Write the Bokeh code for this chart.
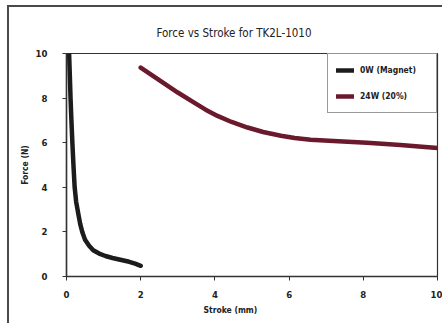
from bokeh.plotting import figure
from bokeh.models import Legend, LegendItem, Range1d, FixedTicker, Title
from bokeh.embed import file_html
from bokeh.resources import INLINE

# data
magnet_x = [0.07, 0.09, 0.11, 0.135, 0.16, 0.19, 0.22, 0.26, 0.32, 0.37, 0.43, 0.5, 0.61, 0.72, 0.88, 1.05, 1.24, 1.45, 1.69, 1.85, 2.0]
magnet_y = [10.0, 9.0, 7.95, 6.9, 5.94, 4.9, 4.0, 3.35, 2.8, 2.35, 1.97, 1.65, 1.38, 1.18, 1.03, 0.92, 0.83, 0.75, 0.66, 0.58, 0.48]
power_x = [2.0, 2.63, 3.0, 3.44, 3.75, 4.07, 4.45, 4.88, 5.3, 5.78, 6.15, 6.58, 7.2, 8.1, 9.0, 10.0]
power_y = [9.37, 8.66, 8.25, 7.8, 7.48, 7.2, 6.93, 6.68, 6.48, 6.31, 6.21, 6.13, 6.08, 6.0, 5.9, 5.76]
series_names = ["0W (Magnet)", "24W (20%)"]
x_ticks = [0, 2, 4, 6, 8, 10]
y_ticks = [0, 2, 4, 6, 8, 10]
title_text = "Force vs Stroke for TK2L-1010"
x_label = "Stroke (mm)"
y_label = "Force (N)"

FONT = "DejaVu Sans Condensed"
AX = "#333333"

p = figure(width=435, height=318, output_backend="svg", toolbar_location=None,
           x_range=Range1d(0, 10), y_range=Range1d(0, 10),
           min_border_left=57, min_border_right=7, min_border_top=46, min_border_bottom=49,
           margin=(5, 0, 0, 7),
           styles={"border-left": "2px solid #4a4a4a", "border-top": "2px solid #4a4a4a"})
p.background_fill_color = "white"
p.border_fill_color = "white"
p.outline_line_color = AX
p.outline_line_width = 1.2
p.grid.visible = False

for ax in (p.xaxis, p.yaxis):
    ax.axis_line_color = AX
    ax.axis_line_width = 1.5
    ax.major_tick_line_color = AX
    ax.major_tick_in = 0
    ax.major_tick_out = 4
    ax.minor_tick_line_color = None
    ax.major_label_text_font = FONT
    ax.major_label_text_font_style = "bold"
    ax.major_label_text_font_size = "9.5px"
    ax.major_label_text_color = "#222222"
    ax.axis_label_text_font = FONT
    ax.axis_label_text_font_style = "bold"
    ax.axis_label_text_font_size = "8.5px"
    ax.axis_label_text_color = "#222222"
p.xaxis.ticker = FixedTicker(ticks=x_ticks)
p.yaxis.ticker = FixedTicker(ticks=y_ticks)
p.xaxis.major_label_standoff = 10
p.yaxis.major_label_standoff = 15
p.yaxis.axis_label = y_label
p.yaxis.axis_label_standoff = 3

p.title = Title(text=title_text, align="left", offset=90, text_font=FONT,
                text_font_style="normal", text_font_size="11.5px", text_color="#222222",
                standoff=27)
p.add_layout(Title(text=x_label, align="left", offset=137, text_font=FONT,
                   text_font_style="bold", text_font_size="8.5px", text_color="#222222",
                   standoff=4), "below")

r1 = p.line(magnet_x, magnet_y, line_color="#1c1c1c", line_width=4.5, line_cap="round", line_join="round")
r2 = p.line(power_x, power_y, line_color="#6a1a2c", line_width=4.5, line_cap="round", line_join="round")

legend = Legend(items=[LegendItem(label=series_names[0], renderers=[r1]),
                       LegendItem(label=series_names[1], renderers=[r2])],
                location="top_right", margin=0, padding=8, spacing=10,
                border_line_color=AX, border_line_width=1.2,
                label_text_font=FONT, label_text_font_style="bold",
                label_text_font_size="8.5px", label_text_color="#222222",
                glyph_width=18, glyph_height=16, label_standoff=6)
legend.label_width = 68
p.add_layout(legend)

open("out.html", "w").write(file_html(p, INLINE))
